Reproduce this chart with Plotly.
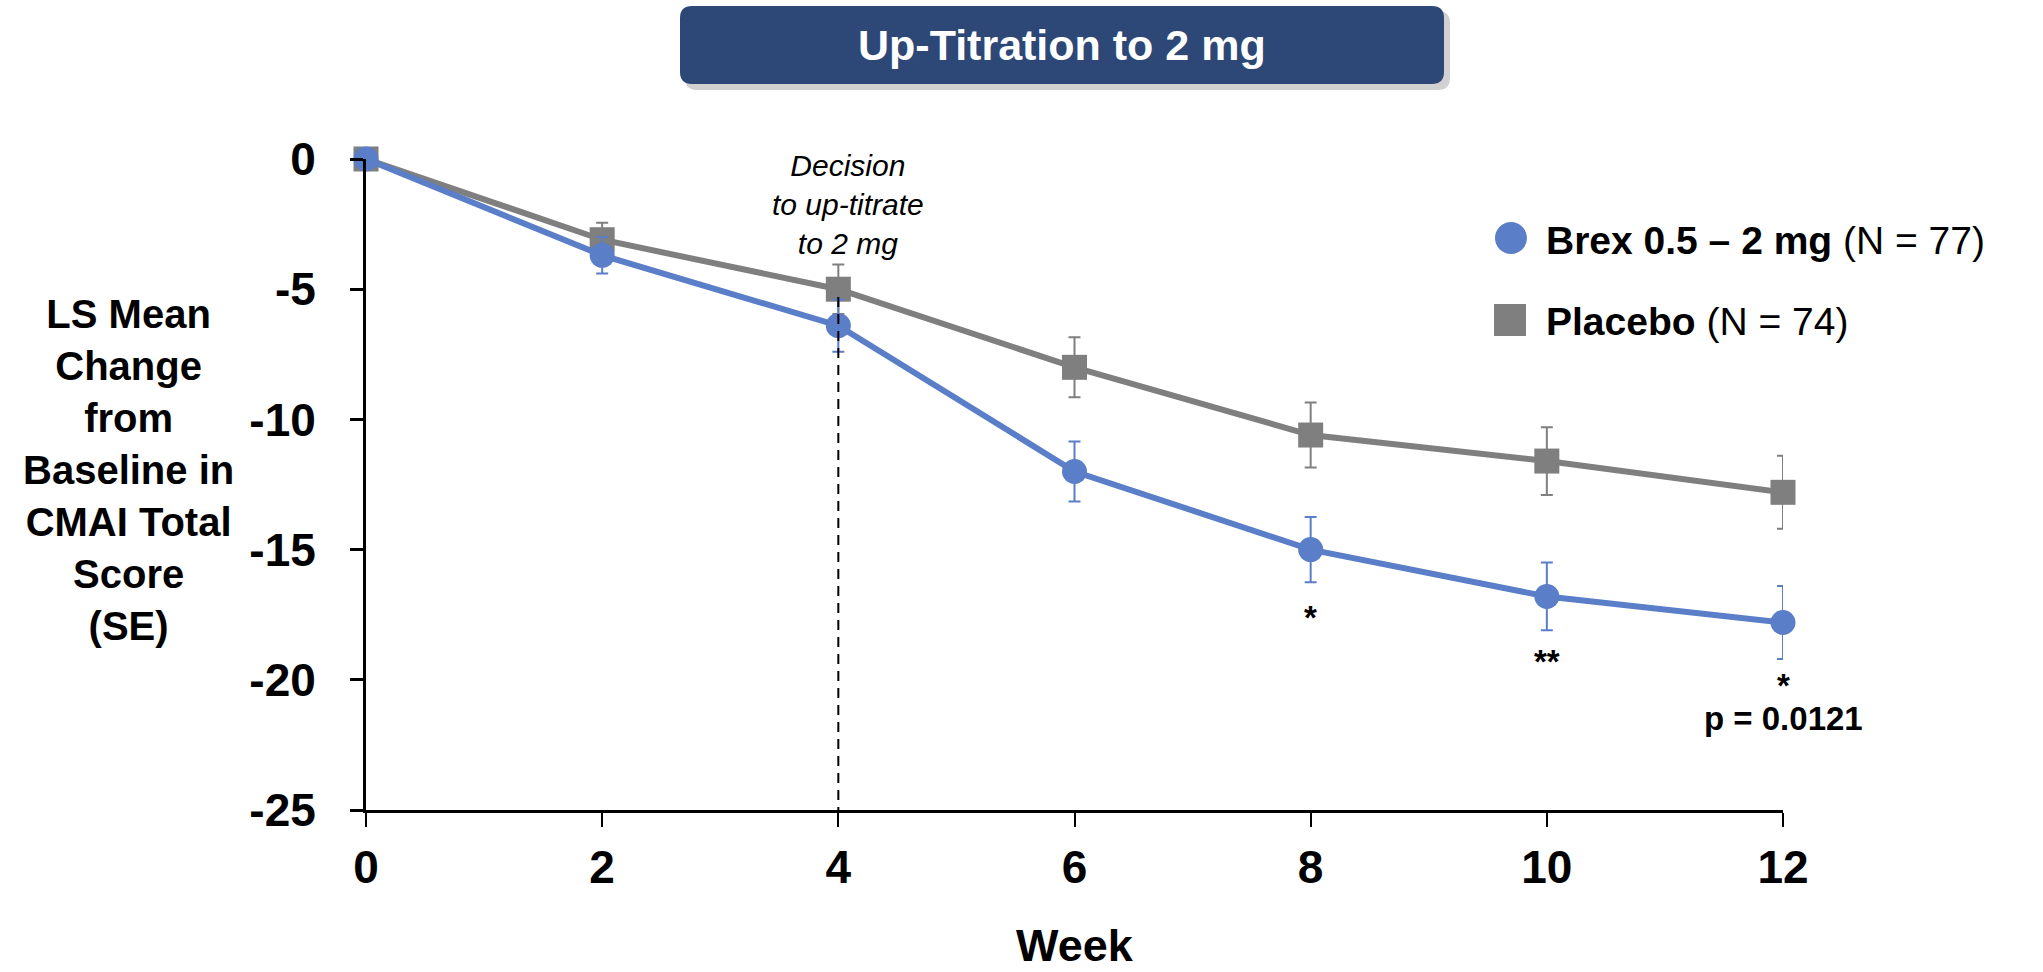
import plotly.graph_objects as go

# Study weeks and LS mean change from baseline (with SE)
weeks = [0, 2, 4, 6, 8, 10, 12]
brex_mean = [0.0, -3.7, -6.4, -12.0, -15.0, -16.8, -17.8]
brex_se = [0.0, 0.7, 1.0, 1.15, 1.25, 1.3, 1.4]
placebo_mean = [0.0, -3.1, -5.0, -8.0, -10.6, -11.6, -12.8]
placebo_se = [0.0, 0.65, 0.95, 1.15, 1.25, 1.3, 1.4]

x_ticks = [0, 2, 4, 6, 8, 10, 12]
y_ticks = [0, -5, -10, -15, -20, -25]

BLUE = "#5A7EC7"
GRAY = "#7F7F7F"
NAVY = "#2D4777"
FONT = "Liberation Sans, Arial, sans-serif"

W, H = 2043, 972
L, R, T, B = 366, 1783, 159, 810


def px(x):
    return (x - L) / (R - L)


def py(y):
    return (B - y) / (B - T)


def rounded_rect(x0, y0, x1, y1, r):
    """SVG path of a rounded rectangle given in pixel coordinates, converted to paper units."""
    rx = r / (R - L)
    ry = r / (B - T)
    a, b, c, d = px(x0), px(x1), py(y0), py(y1)  # c top, d bottom
    return (f"M {a + rx},{c} L {b - rx},{c} Q {b},{c} {b},{c - ry} "
            f"L {b},{d + ry} Q {b},{d} {b - rx},{d} L {a + rx},{d} "
            f"Q {a},{d} {a},{d + ry} L {a},{c - ry} Q {a},{c} {a + rx},{c} Z")


fig = go.Figure()

fig.add_trace(go.Scatter(
    x=weeks, y=placebo_mean, mode="lines+markers", name="Placebo",
    line=dict(color=GRAY, width=6),
    marker=dict(symbol="square", size=25, color=GRAY),
    error_y=dict(type="data", array=placebo_se, visible=True, color=GRAY,
                 thickness=2, width=6),
    cliponaxis=False, showlegend=False,
))
fig.add_trace(go.Scatter(
    x=weeks, y=brex_mean, mode="lines+markers", name="Brex 0.5 – 2 mg",
    line=dict(color=BLUE, width=6),
    marker=dict(symbol="circle", size=25, color=BLUE),
    error_y=dict(type="data", array=brex_se, visible=True, color=BLUE,
                 thickness=2, width=6),
    cliponaxis=False, showlegend=False,
))

shapes = [
    # decision line at week 4
    dict(type="line", xref="x", yref="y", x0=4, x1=4, y0=-5.3, y1=-25,
         line=dict(color="black", width=2, dash="10px,7px"), layer="above"),
    # header box with soft shadow
    dict(type="path", xref="paper", yref="paper",
         path=rounded_rect(685, 11, 1450, 90, 12),
         fillcolor="rgba(0,0,0,0.18)", line=dict(width=0), layer="below"),
    dict(type="path", xref="paper", yref="paper",
         path=rounded_rect(680, 6, 1444, 84, 12),
         fillcolor=NAVY, line=dict(width=0), layer="below"),
    # legend symbols
    dict(type="circle", xref="paper", yref="paper",
         x0=px(1495), x1=px(1527), y0=py(254), y1=py(222),
         fillcolor=BLUE, line=dict(width=0)),
    dict(type="rect", xref="paper", yref="paper",
         x0=px(1494), x1=px(1526), y0=py(336), y1=py(304),
         fillcolor=GRAY, line=dict(width=0)),
]

annotations = [
    dict(text="<b>Up-Titration to 2 mg</b>", xref="paper", yref="paper",
         x=px(1062), y=py(45), xanchor="center", yanchor="middle",
         showarrow=False, font=dict(family=FONT, size=43, color="white")),
    dict(text="<b>LS Mean<br>Change<br>from<br>Baseline in<br>CMAI Total<br>Score<br>(SE)</b>",
         xref="paper", yref="paper", x=px(128), y=py(470),
         xanchor="center", yanchor="middle", align="center", showarrow=False,
         font=dict(family=FONT, size=40, color="black")),
    dict(text="<b>Week</b>", xref="paper", yref="paper", x=px(1075), y=py(946),
         xanchor="center", yanchor="middle", showarrow=False,
         font=dict(family=FONT, size=45, color="black")),
    dict(text="<i>Decision<br>to up-titrate<br>to 2 mg</i>", xref="paper", yref="paper",
         x=px(848), y=py(204), xanchor="center", yanchor="middle", align="center",
         showarrow=False, font=dict(family=FONT, size=30, color="black")),
    dict(text="<b>Brex 0.5 – 2 mg</b> (N = 77)", xref="paper", yref="paper",
         x=px(1544), y=py(240), xanchor="left", yanchor="middle", showarrow=False,
         font=dict(family=FONT, size=39, color="black")),
    dict(text="<b>Placebo</b> (N = 74)", xref="paper", yref="paper",
         x=px(1544), y=py(321), xanchor="left", yanchor="middle", showarrow=False,
         font=dict(family=FONT, size=39, color="black")),
    # significance markers
    dict(text="<b>*</b>", xref="x", yref="y", x=8, y=-17.6, showarrow=False,
         xanchor="center", yanchor="middle", font=dict(family=FONT, size=33, color="black")),
    dict(text="<b>**</b>", xref="x", yref="y", x=10, y=-19.3, showarrow=False,
         xanchor="center", yanchor="middle", font=dict(family=FONT, size=33, color="black")),
    dict(text="<b>*</b>", xref="x", yref="y", x=12, y=-20.3, showarrow=False,
         xanchor="center", yanchor="bottom", yshift=-18,
         font=dict(family=FONT, size=33, color="black")),
    dict(text="<b>p = 0.0121</b>", xref="x", yref="y", x=12, y=-21.5, showarrow=False,
         xanchor="center", yanchor="middle", font=dict(family=FONT, size=33, color="black")),
]

fig.update_layout(
    width=W, height=H,
    margin=dict(l=L, r=W - R, t=T, b=H - B, pad=0),
    paper_bgcolor="white", plot_bgcolor="white",
    shapes=shapes, annotations=annotations,
    font=dict(family=FONT, color="black"),
)

fig.update_xaxes(
    range=[0, 12], tickvals=x_ticks, ticktext=[f"<b>{v}</b>" for v in x_ticks],
    showgrid=False, zeroline=False, showline=True, linecolor="black", linewidth=3,
    ticks="outside", ticklen=14, tickwidth=2, tickcolor="black",
    tickfont=dict(family=FONT, size=46, color="black"), ticklabelstandoff=1,
)
fig.update_yaxes(
    range=[-25, 0], tickvals=y_ticks, ticktext=[f"<b>{v}</b>" for v in y_ticks],
    showgrid=False, zeroline=False, showline=True, linecolor="black", linewidth=3,
    ticks="outside", ticklen=13, tickwidth=3, tickcolor="black",
    tickfont=dict(family=FONT, size=46, color="black"), ticklabelstandoff=25,
)

fig.write_html("out.html")
